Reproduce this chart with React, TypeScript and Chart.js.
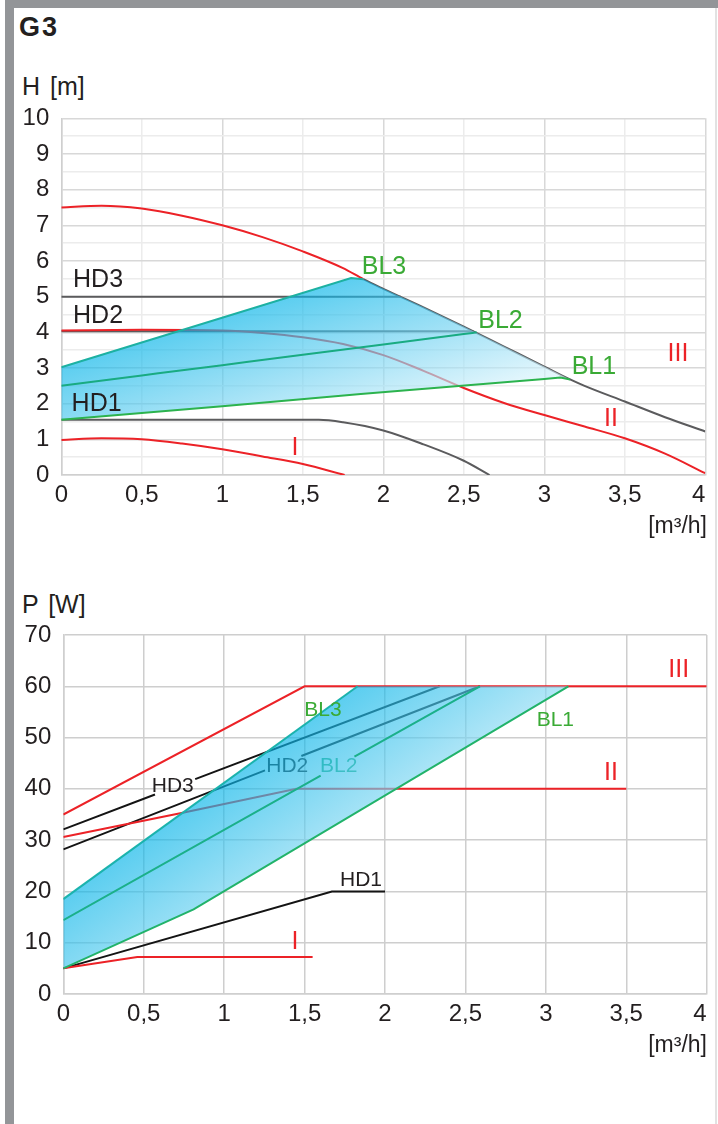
import React, { useEffect, useRef } from 'react';
import { Chart, registerables } from 'chart.js';

Chart.register(...registerables);

// ---------------- Chart 1 : H [m] vs Q [m3/h] ----------------
const flowTickStep = 0.5;
const hMax = 10;

const curveIIIx = [0, 0.25, 0.5, 0.75, 1, 1.25, 1.5, 1.75, 1.876, 2, 2.25, 2.5, 2.75, 3, 3.16, 3.25, 3.5, 3.75, 4];
const curveIIIy = [7.5, 7.55, 7.47, 7.27, 7.0, 6.67, 6.27, 5.8, 5.49, 5.22, 4.7, 4.16, 3.6, 3.04, 2.68, 2.5, 2.06, 1.62, 1.22];

const curveIIx = [0, 0.5, 1, 1.25, 1.5, 1.75, 2, 2.25, 2.5, 2.75, 3, 3.25, 3.5, 3.75, 4];
const curveIIy = [4.05, 4.07, 4.05, 3.98, 3.86, 3.67, 3.36, 2.92, 2.44, 2.02, 1.68, 1.36, 1.03, 0.6, 0.05];

const curveIx = [0, 0.25, 0.5, 0.75, 1, 1.25, 1.5, 1.76];
const curveIy = [0.98, 1.03, 1.0, 0.88, 0.72, 0.52, 0.31, 0];

const hd3x = [0, 2.11];
const hd3y = [5.0, 5.0];
const hd2x = [0, 2.56];
const hd2y = [4.03, 4.03];
const hd1x = [0, 1.6, 1.75, 2, 2.25, 2.5, 2.66];
const hd1y = [1.55, 1.55, 1.48, 1.25, 0.86, 0.4, 0];

const bl3x = [0, 1.8, 1.876];
const bl3y = [3.02, 5.52, 5.49];
const bl2x = [0, 0.5, 1, 1.5, 2, 2.5, 2.58];
const bl2y = [2.5, 2.79, 3.08, 3.37, 3.66, 3.95, 4.0];
const bl1x = [0, 1, 1.86, 3.0, 3.1, 3.16];
const bl1y = [1.55, 1.93, 2.27, 2.69, 2.73, 2.68];

// ---------------- Chart 2 : P [W] vs Q [m3/h] ----------------
const pMax = 70;
const pStep = 10;

const pIIIx = [0, 1.5, 4];
const pIIIy = [35, 60, 60];
const pIIx = [0, 0.75, 1.45, 3.5];
const pIIy = [30.6, 35.4, 40, 40];
const pIx = [0, 0.46, 1.55];
const pIy = [5, 7.2, 7.2];

const pHD3x = [0, 0.57, 0.7, 0.82, 2.34];
const pHD3y: (number | null)[] = [32.1, 38.9, null, 41.9, 60];
const pHD2x = [0, 1.254, 1.37, 1.48, 2.59];
const pHD2y: (number | null)[] = [28.2, 43.6, null, 46.4, 60];
const pHD1x = [0, 1.67, 2.0];
const pHD1y = [5, 20, 20];

const pBL3x = [0, 1.83];
const pBL3y = [18.5, 60];
const pBL2x = [0, 1.6, 1.7, 1.81, 2.59];
const pBL2y: (number | null)[] = [14.4, 42.6, null, 46.3, 60];
const pBL1x = [0, 0.81, 3.14];
const pBL1y = [5, 16.5, 60];

// ---------------- helpers ----------------
const FONT = "'Liberation Sans', Arial, Helvetica, sans-serif";
const RED = '#ec2227';
const GRAY = '#5b5b5d';
const BLACK = '#141414';
const GREEN_TXT = '#3aaa35';
const TXT = '#231f20';

type Pt = { x: number; y: number | null };
const pts = (xs: number[], ys: (number | null)[]): Pt[] => xs.map((x, i) => ({ x, y: ys[i] }));

type Lbl = { text: string; x: number; y: number; color: string; size: number; align: CanvasTextAlign; under?: boolean };

const labels1: Lbl[] = [
  { text: 'HD3', x: 0.073, y: 5.48, color: TXT, size: 25, align: 'left' },
  { text: 'HD2', x: 0.073, y: 4.47, color: TXT, size: 25, align: 'left' },
  { text: 'HD1', x: 0.064, y: 2.01, color: TXT, size: 25, align: 'left' },
  { text: 'BL3', x: 1.866, y: 5.86, color: GREEN_TXT, size: 25, align: 'left' },
  { text: 'BL2', x: 2.59, y: 4.35, color: GREEN_TXT, size: 25, align: 'left' },
  { text: 'BL1', x: 3.17, y: 3.04, color: GREEN_TXT, size: 25, align: 'left' },
  { text: 'I', x: 1.452, y: 0.77, color: RED, size: 25, align: 'center' },
  { text: 'II', x: 3.414, y: 1.59, color: RED, size: 25, align: 'center' },
  { text: 'III', x: 3.83, y: 3.43, color: RED, size: 25, align: 'center' },
];

const labels2: Lbl[] = [
  { text: 'HD3', x: 0.55, y: 40.75, color: TXT, size: 21, align: 'left' },
  { text: 'HD2', x: 1.262, y: 44.65, color: TXT, size: 21, align: 'left', under: true },
  { text: 'BL2', x: 1.596, y: 44.65, color: '#2bb07a', size: 21, align: 'left', under: true },
  { text: 'BL3', x: 1.498, y: 55.6, color: GREEN_TXT, size: 21, align: 'left' },
  { text: 'BL1', x: 2.943, y: 53.6, color: GREEN_TXT, size: 21, align: 'left' },
  { text: 'HD1', x: 1.72, y: 22.4, color: TXT, size: 21, align: 'left' },
  { text: 'I', x: 1.44, y: 10.3, color: RED, size: 25, align: 'center' },
  { text: 'II', x: 3.405, y: 43.2, color: RED, size: 25, align: 'center' },
  { text: 'III', x: 3.826, y: 63.4, color: RED, size: 25, align: 'center' },
];

function labelPlugin(list: Lbl[]) {
  const draw = (chart: any, under: boolean) => {
    const { ctx, scales } = chart;
    ctx.save();
    ctx.textBaseline = 'middle';
    for (const l of list) {
      if (!!l.under !== under) continue;
      ctx.font = `${l.size}px ${FONT}`;
      ctx.fillStyle = l.color;
      ctx.textAlign = l.align;
      ctx.fillText(l.text, scales.x.getPixelForValue(l.x), scales.y.getPixelForValue(l.y) + 1);
    }
    ctx.restore();
  };
  return {
    id: 'curveLabels',
    beforeDatasetsDraw(chart: any) { draw(chart, true); },
    afterDatasetsDraw(chart: any) { draw(chart, false); },
  };
}

function gradientFill(bx: number[], by: number[], len: number, stops: [number, string][]) {
  return (c: any) => {
    const chart = c.chart;
    const { scales, ctx, chartArea } = chart;
    if (!chartArea || !scales.x || !scales.y) return 'rgba(5,180,232,0.65)';
    const x0 = scales.x.getPixelForValue(bx[0]);
    const y0 = scales.y.getPixelForValue(by[0]);
    const x1 = scales.x.getPixelForValue(bx[1]);
    const y1 = scales.y.getPixelForValue(by[1]);
    const dx = x1 - x0, dy = y1 - y0;
    const n = Math.hypot(dx, dy) || 1;
    const px = -dy / n, py = dx / n;
    const g = ctx.createLinearGradient(x0, y0, x0 + px * len, y0 + py * len);
    for (const [o, col] of stops) g.addColorStop(o, col);
    return g;
  };
}

function lineDs(label: string, data: Pt[], color: string, order: number, extra: any = {}) {
  return {
    label,
    data,
    showLine: true,
    borderColor: color,
    borderWidth: 2,
    pointRadius: 0,
    pointHoverRadius: 0,
    fill: false,
    order,
    ...extra,
  };
}

function baseOptions(yMax: number, yStep: number, yLabel: (v: number) => string, gridColor: (v: number, isX: boolean) => string, padRight: number, padTop: number, yWidth: number, xHeight: number) {
  return {
    responsive: false,
    animation: false as const,
    devicePixelRatio: 1,
    layout: { padding: { left: 0, right: padRight, top: padTop, bottom: 0 } },
    plugins: { legend: { display: false }, tooltip: { enabled: false }, title: { display: false } },
    events: [] as any[],
    scales: {
      x: {
        type: 'linear' as const,
        min: 0,
        max: 4,
        ticks: {
          stepSize: flowTickStep,
          autoSkip: false,
          maxRotation: 0,
          padding: 6,
          color: TXT,
          font: { family: FONT, size: 24 },
          callback: (v: any) => {
            const n = Number(v);
            if (n === 4) return '4  ';
            return String(n).replace('.', ',');
          },
        },
        grid: { drawTicks: false, lineWidth: 1.5, color: (c: any) => gridColor(c.tick ? c.tick.value : 0, true) },
        border: { color: '#cfcfcf', width: 1.5 },
        afterFit: (s: any) => { s.height = xHeight; s.paddingLeft = 0; s.paddingRight = 0; },
      },
      y: {
        type: 'linear' as const,
        min: 0,
        max: yMax,
        ticks: {
          stepSize: yStep,
          autoSkip: false,
          padding: 12,
          color: TXT,
          font: { family: FONT, size: 24 },
          callback: (v: any) => yLabel(Number(v)),
        },
        grid: { drawTicks: false, lineWidth: 1.5, color: (c: any) => gridColor(c.tick ? c.tick.value : 0, false) },
        border: { color: '#cfcfcf', width: 1.5 },
        afterFit: (s: any) => { s.width = yWidth; s.paddingTop = 0; s.paddingBottom = 0; },
      },
    },
  };
}

function HeadChart() {
  const ref = useRef<HTMLCanvasElement>(null);
  useEffect(() => {
    if (!ref.current) return;
    const III = pts(curveIIIx, curveIIIy);
    const bl3 = pts(bl3x, bl3y);
    const bl1 = pts(bl1x, bl1y);
    const lastBL3 = bl3x[bl3x.length - 1];
    const lastBL1 = bl1x[bl1x.length - 1];
    const poly = [...bl3, ...III.filter((p) => p.x > lastBL3 && p.x < lastBL1), ...bl1.slice().reverse()];
    const mono = { cubicInterpolationMode: 'monotone' };
    const chart = new Chart(ref.current, {
      type: 'scatter',
      data: {
        datasets: [
          lineDs('BL3', bl3, '#1db1a2', 1),
          lineDs('BL2', pts(bl2x, bl2y), '#19ab82', 1, mono),
          lineDs('BL1', bl1, '#2cb34e', 1),
          {
            label: 'range',
            data: poly,
            showLine: true,
            borderWidth: 0,
            borderColor: 'rgba(0,0,0,0)',
            pointRadius: 0,
            tension: 0,
            fill: 'shape',
            order: 3,
            backgroundColor: gradientFill(bl3x, bl3y, 150, [
              [0, 'rgba(5,180,232,0.65)'],
              [0.5, 'rgba(109,209,241,0.65)'],
              [1, 'rgba(214,242,251,0.65)'],
            ]),
          },
          lineDs('III', III, RED, 5, {
            ...mono,
            segment: { borderColor: (c: any) => (c.p0.parsed.x >= lastBL3 - 0.001 ? GRAY : undefined) },
          }),
          lineDs('II', pts(curveIIx, curveIIy), RED, 5, mono),
          lineDs('I', pts(curveIx, curveIy), RED, 5, mono),
          lineDs('HD3', pts(hd3x, hd3y), GRAY, 7),
          lineDs('HD2', pts(hd2x, hd2y), GRAY, 7),
          lineDs('HD1', pts(hd1x, hd1y), GRAY, 7, mono),
        ],
      },
      options: baseOptions(
        hMax,
        0.5,
        (v) => (Number.isInteger(v) ? String(v) : ''),
        (v) => (Number.isInteger(v) ? '#d8d8d8' : '#ececec'),
        12.7,
        18.3,
        61.3,
        45
      ) as any,
      plugins: [labelPlugin(labels1)],
    });
    return () => chart.destroy();
  }, []);
  return <canvas ref={ref} width={718} height={420} style={{ width: 718, height: 420, display: 'block' }} />;
}

function PowerChart() {
  const ref = useRef<HTMLCanvasElement>(null);
  useEffect(() => {
    if (!ref.current) return;
    const bl3 = pts(pBL3x, pBL3y);
    const bl1 = pts(pBL1x, pBL1y);
    const poly = [...bl3, ...bl1.slice().reverse()];
    const chart = new Chart(ref.current, {
      type: 'scatter',
      data: {
        datasets: [
          lineDs('BL3', bl3, '#1bb3ad', 1),
          lineDs('BL2', pts(pBL2x, pBL2y), '#1bb08a', 1),
          lineDs('BL1', bl1, '#22b36a', 1),
          {
            label: 'range',
            data: poly,
            showLine: true,
            borderWidth: 0,
            borderColor: 'rgba(0,0,0,0)',
            pointRadius: 0,
            tension: 0,
            fill: 'shape',
            order: 3,
            backgroundColor: gradientFill(pBL3x, pBL3y, 125, [
              [0, 'rgba(5,180,232,0.65)'],
              [1, 'rgba(140,218,243,0.65)'],
            ]),
          },
          lineDs('III', pts(pIIIx, pIIIy), RED, 5),
          lineDs('II', pts(pIIx, pIIy), RED, 5),
          lineDs('I', pts(pIx, pIy), RED, 5),
          lineDs('HD3', pts(pHD3x, pHD3y), BLACK, 7),
          lineDs('HD2', pts(pHD2x, pHD2y), BLACK, 7),
          lineDs('HD1', pts(pHD1x, pHD1y), BLACK, 7),
        ],
      },
      options: baseOptions(
        pMax,
        pStep,
        (v) => String(v),
        () => '#cecece',
        11.3,
        15,
        63.3,
        46
      ) as any,
      plugins: [labelPlugin(labels2)],
    });
    return () => chart.destroy();
  }, []);
  return <canvas ref={ref} width={718} height={420} style={{ width: 718, height: 420, display: 'block' }} />;
}

const abs = (o: React.CSSProperties): React.CSSProperties => ({ position: 'absolute', ...o });
const txt = (size: number, bold = false): React.CSSProperties => ({
  fontFamily: FONT,
  fontSize: size,
  lineHeight: `${size}px`,
  fontWeight: bold ? 700 : 400,
  color: TXT,
  whiteSpace: 'pre',
  margin: 0,
});

export default function App() {
  return (
    <div style={abs({ left: 0, top: 0, width: 718, height: 1124, background: '#fff', overflow: 'hidden' })}>
      <div style={abs({ left: 5, top: 0, width: 713, height: 8, background: '#939598' })} />
      <div style={abs({ left: 5, top: 0, width: 8.5, height: 1124, background: '#939598' })} />
      <div style={abs({ left: 715, top: 8, width: 2, height: 1116, background: '#e2e2e2' })} />

      <div style={{ ...abs({ left: 19, top: 14 }), ...txt(27, true), letterSpacing: 2 }}>G3</div>
      <div style={{ ...abs({ left: 22, top: 73.5 }), ...txt(25), wordSpacing: 3 }}>H [m]</div>

      <div style={abs({ left: 0, top: 100, width: 718, height: 420 })}>
        <HeadChart />
      </div>
      <div style={{ ...abs({ right: 11, top: 514.3 }), ...txt(23), textAlign: 'right' }}>[m³/h]</div>

      <div style={{ ...abs({ left: 22, top: 591.5 }), ...txt(25), wordSpacing: 3 }}>P [W]</div>
      <div style={abs({ left: 0, top: 620, width: 718, height: 420 })}>
        <PowerChart />
      </div>
      <div style={{ ...abs({ right: 11, top: 1033.3 }), ...txt(23), textAlign: 'right' }}>[m³/h]</div>
    </div>
  );
}
